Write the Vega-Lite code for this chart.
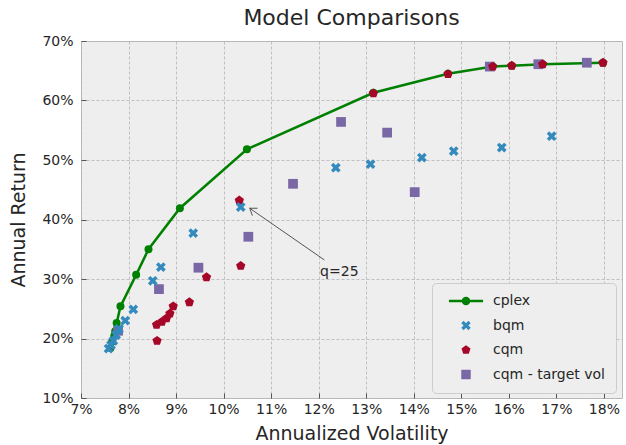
{
  "$schema": "https://vega.github.io/schema/vega-lite/v6.json",
  "width": 541,
  "height": 357,
  "autosize": {"type": "none"},
  "padding": {"left": 81, "top": 41, "right": 4, "bottom": 47},
  "background": "white",
  "title": {"text": "Model Comparisons", "fontSize": 22, "fontWeight": "normal", "font": "DejaVu Sans", "color": "#262626", "offset": 4, "anchor": "middle"},
  "config": {
    "font": "DejaVu Sans",
    "view": {"fill": "#eeeeee", "stroke": "#bcbcbc", "strokeWidth": 1},
    "axis": {"grid": true, "gridColor": "#b2b2b2", "gridDash": [3, 2], "gridWidth": 0.8, "domain": false, "tickColor": "#555555", "tickSize": -5, "tickWidth": 1, "labelFontSize": 14, "labelColor": "#262626", "titleFontSize": 19, "titleFontWeight": "normal", "titleColor": "#262626", "labelFlush": false, "labelOverlap": false}
  },
  "datasets": {
    "pts": [
      {"model": "cplex", "vol": 7.62, "ret": 18.4},
      {"model": "cplex", "vol": 7.66, "ret": 19.5},
      {"model": "cplex", "vol": 7.70, "ret": 20.4},
      {"model": "cplex", "vol": 7.72, "ret": 21.2},
      {"model": "cplex", "vol": 7.75, "ret": 22.6},
      {"model": "cplex", "vol": 7.83, "ret": 25.4},
      {"model": "cplex", "vol": 8.16, "ret": 30.7},
      {"model": "cplex", "vol": 8.42, "ret": 35.0},
      {"model": "cplex", "vol": 9.08, "ret": 41.9},
      {"model": "cplex", "vol": 10.49, "ret": 51.8},
      {"model": "cplex", "vol": 13.15, "ret": 61.3},
      {"model": "cplex", "vol": 14.72, "ret": 64.5},
      {"model": "cplex", "vol": 15.66, "ret": 65.7},
      {"model": "cplex", "vol": 16.06, "ret": 65.85},
      {"model": "cplex", "vol": 16.71, "ret": 66.1},
      {"model": "cplex", "vol": 17.98, "ret": 66.35},
      {"model": "cqm - target vol", "vol": 7.78, "ret": 21.3},
      {"model": "cqm - target vol", "vol": 8.64, "ret": 28.3},
      {"model": "cqm - target vol", "vol": 9.47, "ret": 31.9},
      {"model": "cqm - target vol", "vol": 10.52, "ret": 37.1},
      {"model": "cqm - target vol", "vol": 11.46, "ret": 46.0},
      {"model": "cqm - target vol", "vol": 12.47, "ret": 56.4},
      {"model": "cqm - target vol", "vol": 13.44, "ret": 54.6},
      {"model": "cqm - target vol", "vol": 14.02, "ret": 44.6},
      {"model": "cqm - target vol", "vol": 15.6, "ret": 65.7},
      {"model": "cqm - target vol", "vol": 16.62, "ret": 66.1},
      {"model": "cqm - target vol", "vol": 17.64, "ret": 66.35},
      {"model": "cqm", "vol": 8.6, "ret": 19.6},
      {"model": "cqm", "vol": 8.59, "ret": 22.3},
      {"model": "cqm", "vol": 8.7, "ret": 22.8},
      {"model": "cqm", "vol": 8.8, "ret": 23.4},
      {"model": "cqm", "vol": 8.87, "ret": 24.2},
      {"model": "cqm", "vol": 8.94, "ret": 25.4},
      {"model": "cqm", "vol": 9.28, "ret": 26.1},
      {"model": "cqm", "vol": 9.64, "ret": 30.3},
      {"model": "cqm", "vol": 10.36, "ret": 32.2},
      {"model": "cqm", "vol": 10.33, "ret": 43.2},
      {"model": "cqm", "vol": 13.15, "ret": 61.2},
      {"model": "cqm", "vol": 14.72, "ret": 64.45},
      {"model": "cqm", "vol": 15.66, "ret": 65.7},
      {"model": "cqm", "vol": 16.06, "ret": 65.85},
      {"model": "cqm", "vol": 16.71, "ret": 66.1},
      {"model": "cqm", "vol": 17.98, "ret": 66.35},
      {"model": "bqm", "vol": 7.58, "ret": 18.3},
      {"model": "bqm", "vol": 7.63, "ret": 18.9},
      {"model": "bqm", "vol": 7.68, "ret": 19.6},
      {"model": "bqm", "vol": 7.74, "ret": 20.6},
      {"model": "bqm", "vol": 7.8, "ret": 21.6},
      {"model": "bqm", "vol": 7.93, "ret": 23.0},
      {"model": "bqm", "vol": 8.1, "ret": 24.9},
      {"model": "bqm", "vol": 8.51, "ret": 29.7},
      {"model": "bqm", "vol": 8.68, "ret": 32.0},
      {"model": "bqm", "vol": 9.36, "ret": 37.7},
      {"model": "bqm", "vol": 10.36, "ret": 42.1},
      {"model": "bqm", "vol": 12.36, "ret": 48.7},
      {"model": "bqm", "vol": 13.09, "ret": 49.3},
      {"model": "bqm", "vol": 14.17, "ret": 50.4},
      {"model": "bqm", "vol": 14.84, "ret": 51.5},
      {"model": "bqm", "vol": 15.85, "ret": 52.1},
      {"model": "bqm", "vol": 16.9, "ret": 54.0}
    ],
    "arrow": [{"vol": 12.12, "ret": 33.2, "vol2": 10.55, "ret2": 41.88}],
    "tip": [{"vol": 10.55, "ret": 41.88}],
    "label": [{"vol": 12.03, "ret": 31.1, "text": "q=25"}]
  },
  "encoding": {
    "x": {"field": "vol", "type": "quantitative", "scale": {"domain": [7, 18.38], "nice": false, "zero": false}, "axis": {"title": "Annualized Volatility", "values": [7, 8, 9, 10, 11, 12, 13, 14, 15, 16, 17, 18], "labelExpr": "datum.value + '%'", "labelPadding": 9, "titlePadding": 8}},
    "y": {"field": "ret", "type": "quantitative", "scale": {"domain": [10, 70], "nice": false, "zero": false}, "axis": {"title": "Annual Return", "values": [10, 20, 30, 40, 50, 60, 70], "labelExpr": "datum.value + '%'", "labelPadding": 13, "titlePadding": 13}}
  },
  "layer": [
    {
      "data": {"name": "pts"},
      "transform": [{"filter": "datum.model === 'cplex'"}],
      "mark": {"type": "line", "color": "#008000", "strokeWidth": 2.5}
    },
    {
      "data": {"name": "pts"},
      "transform": [{"filter": "datum.model === 'cplex'"}],
      "mark": {"type": "point", "filled": true, "opacity": 1, "shape": "circle", "size": 64},
      "encoding": {
        "color": {"field": "model", "type": "nominal", "scale": {"domain": ["cplex", "bqm", "cqm", "cqm - target vol"], "range": ["#008000", "#348ABD", "#A60628", "#7A68A6"]}}
      }
    },
    {
      "data": {"name": "pts"},
      "transform": [{"filter": "datum.model !== 'cplex'"}],
      "mark": {"type": "point", "filled": true, "opacity": 1, "size": 95},
      "encoding": {
        "color": {"field": "model", "type": "nominal", "scale": {"domain": ["cplex", "bqm", "cqm", "cqm - target vol"], "range": ["#008000", "#348ABD", "#A60628", "#7A68A6"]}, "legend": {"title": null, "orient": "none", "legendX": 351, "legendY": 242, "fillColor": "#eeeeee", "strokeColor": "#cccccc", "cornerRadius": 4, "padding": 11, "labelFontSize": 14, "labelColor": "#262626", "symbolOffset": 16, "labelOffset": 20, "rowPadding": 10.5, "symbolSize": 90, "symbolStrokeWidth": 0}},
        "shape": {"field": "model", "type": "nominal", "scale": {"domain": ["cplex", "bqm", "cqm", "cqm - target vol"], "range": ["M-3.6,-0.25H3.6V0.25H-3.6Z M-0.9,0A0.9,0.9 0 1,1 0.9,0A0.9,0.9 0 1,1 -0.9,0Z", "M-1,-0.5L-0.5,-1L0,-0.5L0.5,-1L1,-0.5L0.5,0L1,0.5L0.5,1L0,0.5L-0.5,1L-1,0.5L-0.5,0Z", "M0,-1L0.951,-0.309L0.588,0.809L-0.588,0.809L-0.951,-0.309Z", "square"]}, "legend": {"title": null, "orient": "none", "legendX": 351, "legendY": 242, "fillColor": "#eeeeee", "strokeColor": "#cccccc", "cornerRadius": 4, "padding": 11, "labelFontSize": 14, "labelColor": "#262626", "symbolOffset": 16, "labelOffset": 20, "rowPadding": 10.5, "symbolSize": 90, "symbolStrokeWidth": 0}}
      }
    },
    {
      "data": {"name": "arrow"},
      "mark": {"type": "rule", "color": "#555555", "strokeWidth": 1},
      "encoding": {"x2": {"field": "vol2"}, "y2": {"field": "ret2"}}
    },
    {
      "data": {"name": "tip"},
      "mark": {"type": "point", "filled": false, "shape": "M-1,-0.7L0,0L-1,0.7", "size": 160, "angle": 215, "stroke": "#555555", "strokeWidth": 1, "opacity": 1},
      "encoding": {}
    },
    {
      "data": {"name": "label"},
      "mark": {"type": "text", "align": "left", "baseline": "middle", "fontSize": 14, "color": "#262626"},
      "encoding": {"text": {"field": "text"}}
    }
  ]
}
